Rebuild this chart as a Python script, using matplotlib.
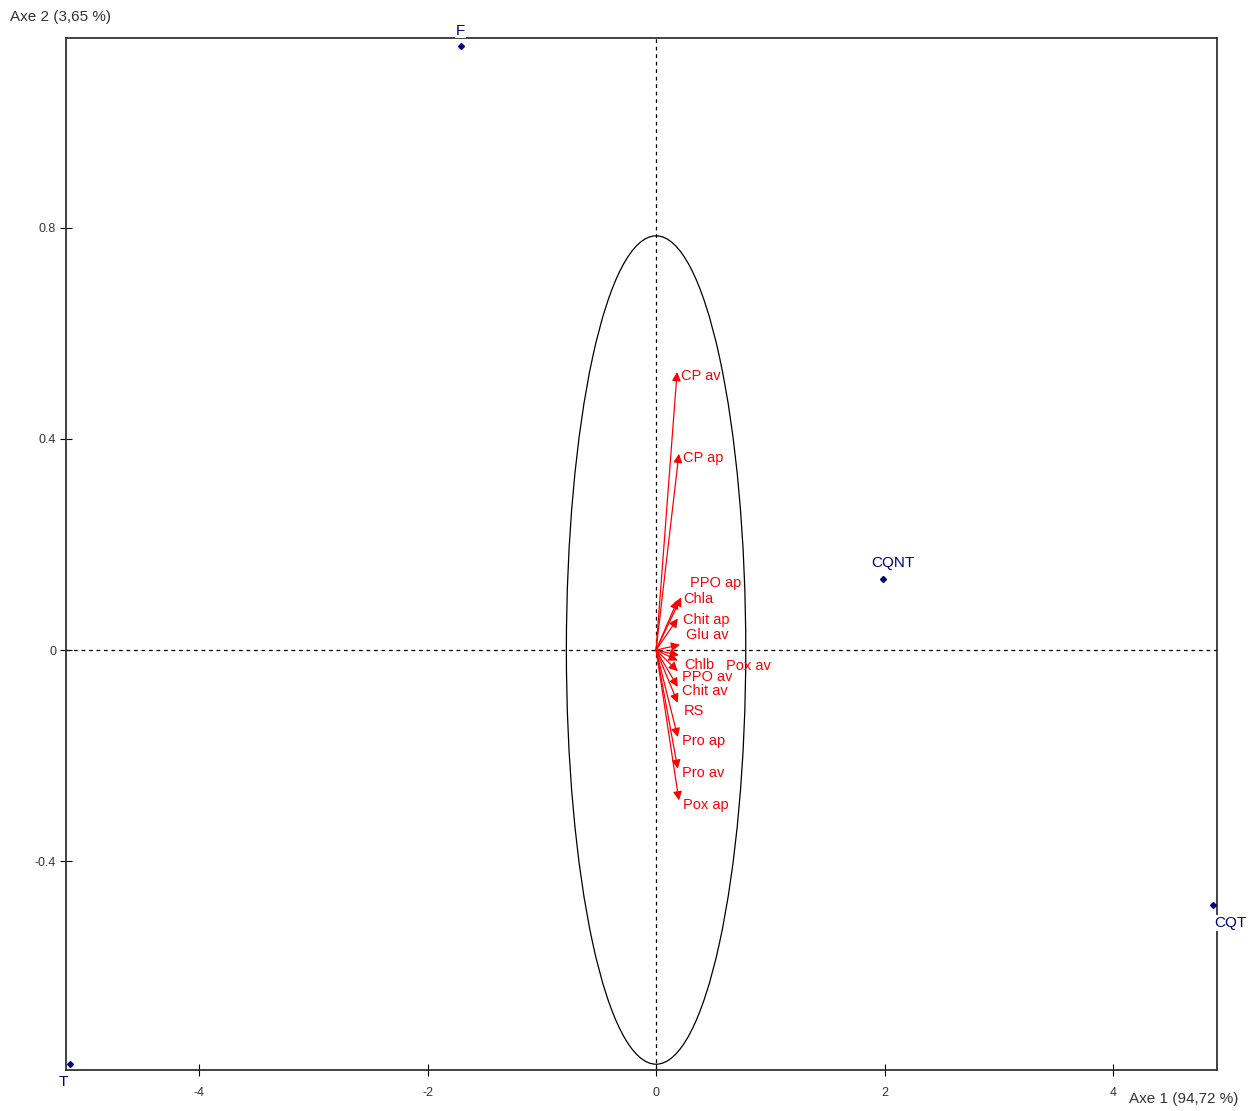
import matplotlib.pyplot as plt
from matplotlib.patches import Ellipse

# variables (correlation circle)
var_names = ['CP av', 'CP ap', 'PPO ap', 'Chla', 'Chit ap', 'Glu av', 'Chlb', 'Pox av',
             'PPO av', 'Chit av', 'RS', 'Pro ap', 'Pro av', 'Pox ap']
var_x = [0.184, 0.20, 0.22, 0.19, 0.19, 0.21, 0.19, 0.20, 0.19, 0.19, 0.19, 0.19, 0.19, 0.20]
var_y = [0.527, 0.372, 0.10, 0.095, 0.06, 0.01, -0.02, -0.01, -0.04, -0.07, -0.10, -0.165, -0.225, -0.285]

# individuals
ind_names = ['F', 'CQNT', 'CQT', 'T']
ind_x = [-1.71, 1.99, 4.875, -5.13]
ind_y = [1.145, 0.135, -0.483, -0.785]

circle_r = 0.785

plt.rcParams['font.family'] = ['Liberation Sans', 'DejaVu Sans']
plt.rcParams['axes.unicode_minus'] = False

fig = plt.figure(figsize=(12.56, 11.11), dpi=100)
ax = fig.add_axes([0.0525, 0.0369, 0.9165, 0.9289])
ax.set_xlim(-5.165, 4.91)
ax.set_ylim(-0.796, 1.160)

ax.axhline(0, color='black', ls=(0, (3, 3)), lw=0.9, zorder=1)
ax.axvline(0, color='black', ls=(0, (3, 3)), lw=0.9, zorder=1)
ax.add_patch(Ellipse((0, 0), 2 * circle_r, 2 * circle_r, fill=False, ec='black', lw=0.9))

# label offsets in points (dx, dy)
offsets = {'PPO ap': (6, 10), 'Pox av': (34, -8), 'Chla': (4, 1), 'Glu av': (4, 7),
           'Chlb': (5, -3), 'PPO av': (3, -4), 'RS': (4, -6), 'Chit ap': (4, -1)}
for n, x, y in zip(var_names, var_x, var_y):
    ax.annotate('', xy=(x, y), xytext=(0, 0),
                arrowprops=dict(arrowstyle='-|>', color='red', lw=0.9, mutation_scale=13,
                                shrinkA=0, shrinkB=0))
    dx, dy = offsets.get(n, (3, -3))
    ax.annotate(n, xy=(x, y), xytext=(dx, dy), textcoords='offset points',
                color='red', fontsize=10.5, ha='left', va='center')

ax.plot(ind_x, ind_y, 'D', color='navy', ms=3, zorder=5, clip_on=False)
ind_off = {'F': (0, 6, 'center', 'bottom'), 'CQNT': (7, 6, 'center', 'bottom'),
           'CQT': (1, -8, 'left', 'top'), 'T': (-5, -8, 'center', 'top')}
for n, x, y in zip(ind_names, ind_x, ind_y):
    dx, dy, ha, va = ind_off[n]
    ax.annotate(n, xy=(x, y), xytext=(dx, dy), textcoords='offset points',
                color='navy', fontsize=11, ha=ha, va=va, annotation_clip=False, zorder=6,
                bbox=dict(fc='white', ec='none', pad=0.5))

ax.set_xticks([-4, -2, 0, 2, 4])
ax.set_yticks([-0.4, 0, 0.4, 0.8])
ax.set_yticklabels(['-0.4', '0', '0.4', '0.8'])
ax.tick_params(direction='inout', length=8, width=0.8, labelsize=9, labelcolor='#333333')
ax.tick_params(axis='x', pad=8)
ax.tick_params(axis='y', pad=3)
for s in ax.spines.values():
    s.set_color('#333333')
    s.set_linewidth(1.3)

fig.text(0.008, 0.985, 'Axe 2 (3,65 %)', fontsize=11, color='#333333', ha='left', va='center')
fig.text(0.986, 0.011, 'Axe 1 (94,72 %)', fontsize=11, color='#333333', ha='right', va='center')

fig.savefig('out.png', dpi=100)
